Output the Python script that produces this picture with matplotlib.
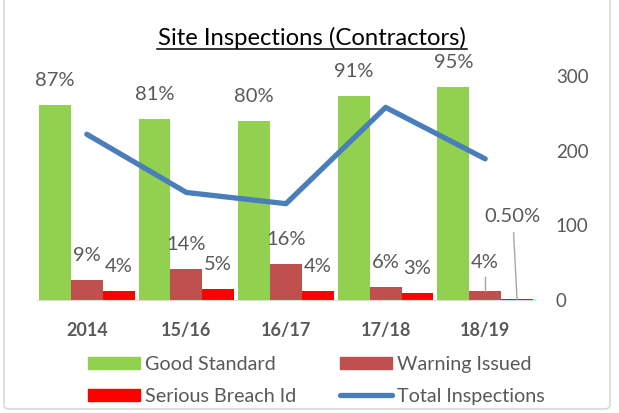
import matplotlib
matplotlib.use("Agg")
import matplotlib.pyplot as plt
from matplotlib.patches import FancyBboxPatch, Patch
from matplotlib.lines import Line2D
import numpy as np

plt.rcParams['font.family'] = ['Lato', 'DejaVu Sans']

years = ["2014", "15/16", "16/17", "17/18", "18/19"]
good_standard = [0.87, 0.81, 0.80, 0.91, 0.95]
warning_issued = [0.09, 0.14, 0.16, 0.06, 0.04]
serious_breach = [0.04, 0.05, 0.04, 0.03, 0.005]
total_inspections = [222, 144, 129, 258, 189]

good_labels = ["87%", "81%", "80%", "91%", "95%"]
warning_labels = ["9%", "14%", "16%", "6%", "4%"]
serious_labels = ["4%", "5%", "4%", "3%", "0.50%"]

txt = "#595959"
green = "#92D050"
brick = "#C0504D"
red = "#FF0000"
blue = "#4A7EBB"

W, H = 619, 413
fig = plt.figure(figsize=(W / 100, H / 100), dpi=100)

# chart border
fig.add_artist(FancyBboxPatch((4 / W, 4 / H), 606 / W, 420 / H,
                              boxstyle="round,pad=0,rounding_size=0.01",
                              transform=fig.transFigure, fill=False,
                              edgecolor="#D9D9D9", linewidth=1.2))

left, right, bottom, top = 37, 535, 300, 76
ax = fig.add_axes([left / W, 1 - bottom / H, (right - left) / W, (bottom - top) / H])
ax2 = ax.twinx()

x = np.arange(len(years))
bw = 0.32
ax.bar(x - bw, good_standard, bw, color=green)
ax.bar(x, warning_issued, bw, color=brick)
ax.bar(x + bw, serious_breach, bw, color=red)
ax.set_ylim(0, 1)
ax.set_xlim(-0.5, 4.5)
ax.set_yticks([])
for s in ["top", "left", "right"]:
    ax.spines[s].set_visible(False)
ax.spines["bottom"].set_color("#D9D9D9")
ax.set_xticks(x)
ax.set_xticklabels(years, fontweight="bold", color=txt, fontsize=13)
ax.tick_params(axis="x", length=0, pad=16)

lbl = dict(ha="center", va="center", color=txt, fontsize=14.5, textcoords="offset points")
for i in range(len(years)):
    ax.annotate(good_labels[i], (x[i] - bw, good_standard[i]), xytext=(0, 17.5), **lbl)
    if i < 4:
        ax.annotate(warning_labels[i], (x[i], warning_issued[i]), xytext=(0, 17.5), **lbl)
        ax.annotate(serious_labels[i], (x[i] + bw, serious_breach[i]), xytext=(0, 17.5), **lbl)

# 18/19 labels with leader lines
ax.annotate(warning_labels[4], (x[4], warning_issued[4]), xytext=(0, 20.5), **lbl)
ax.plot([x[4], x[4]], [warning_issued[4] + 0.062, warning_issued[4]], color="#A6A6A6", lw=1)
ax.annotate(serious_labels[4], (x[4] + bw, serious_breach[4]), xytext=(-3.5, 59), **lbl)
ax.plot([x[4] + bw - 0.035, x[4] + bw], [0.3, 0.0], color="#A6A6A6", lw=1)

ax2.plot(x, total_inspections, color=blue, lw=3.8, solid_capstyle="round",
         solid_joinstyle="round")
ax2.set_ylim(0, 300)
ax2.set_yticks([0, 100, 200, 300])
ax2.tick_params(axis="y", length=0, pad=15, labelcolor=txt, labelsize=13.5)
for s in ["top", "left", "right", "bottom"]:
    ax2.spines[s].set_visible(False)

# legend filled column-wise: Good/Serious left, Warning/Total right
handles = [Patch(color=green), Patch(color=red), Patch(color=brick),
           Line2D([], [], color=blue, lw=3.8, solid_capstyle="round")]
labels = ["Good Standard", "Serious Breach Id", "Warning Issued", "Total Inspections"]
fig.legend(handles, labels, ncol=2, loc="center left", bbox_to_anchor=(88 / W, 1 - 380.5 / H),
           frameon=False, fontsize=14.2, labelcolor=txt, handlelength=2.64,
           handleheight=0.61, handletextpad=0.25, columnspacing=2.2, labelspacing=0.77,
           borderpad=0, borderaxespad=0)

title_base = 45
fig.text(312 / W, 1 - title_base / H, "Site Inspections (Contractors)", ha="center",
         va="baseline", fontsize=17.2, color="black")
fig.add_artist(Line2D([157 / W, 467 / W], [1 - 49 / H, 1 - 49 / H], color="black",
                      lw=1.1, transform=fig.transFigure))

fig.savefig("out.png", dpi=100)
